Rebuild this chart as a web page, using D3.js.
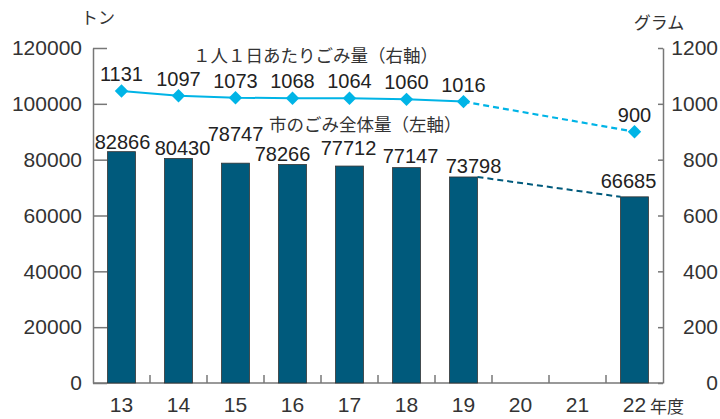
<!DOCTYPE html>
<html>
<head>
<meta charset="utf-8">
<script src="https://cdn.jsdelivr.net/npm/d3@7"></script>
<style>
  body { margin: 0; background: #fff; }
  svg text { font-family: "Liberation Sans", "Noto Sans CJK JP", sans-serif; }
  svg text.jp { font-family: "Noto Sans CJK JP", sans-serif; }
</style>
</head>
<body>
<div id="chart"></div>
<script>
// 年度
const years = ['13', '14', '15', '16', '17', '18', '19', '20', '21', '22']
// 市のごみ全体量（トン）
const totalYears = ['13', '14', '15', '16', '17', '18', '19', '22']
const totalTons = [82866, 80430, 78747, 78266, 77712, 77147, 73798, 66685]
// 1人1日あたりごみ量（グラム）: 表示ラベルと、図上のマーカー位置（右軸で読んだ値）
const perCapitaLabels = [1131, 1097, 1073, 1068, 1064, 1060, 1016, 900]
const perCapitaPlotted = [1046, 1029, 1022, 1020, 1020, 1016, 1008, 900]
// 目盛り
const leftTicks = [0, 20000, 40000, 60000, 80000, 100000, 120000]
const rightTicks = [0, 200, 400, 600, 800, 1000, 1200]

const width = 720, height = 419
const plotLeft = 93, plotRight = 663, plotTop = 48, plotBottom = 383
const barColor = '#005a7c', lineColor = '#00b4e6', axisColor = '#777'

const svg = d3.select('#chart').append('svg')
  .attr('width', width)
  .attr('height', height)

const x = d3.scaleBand().domain(years).range([plotLeft, plotRight]).padding(0)
const yL = d3.scaleLinear().domain([0, 120000]).range([plotBottom, plotTop])
const yR = d3.scaleLinear().domain([0, 1200]).range([plotBottom, plotTop])
const barW = x.bandwidth() * 0.49

// 左軸
const axL = svg.append('g')
  .attr('transform', `translate(${plotLeft},0)`)
  .call(d3.axisLeft(yL).tickValues(leftTicks).tickFormat(d3.format('d'))
    .tickSizeInner(-14).tickSizeOuter(0).tickPadding(11))
axL.select('.domain').attr('stroke', axisColor).attr('stroke-width', 1.5)
axL.selectAll('line').attr('stroke', axisColor).attr('stroke-width', 1.5)
axL.selectAll('text').attr('font-size', 21).attr('fill', '#333')

// 右軸
const axR = svg.append('g')
  .attr('transform', `translate(${plotRight},0)`)
  .call(d3.axisRight(yR).tickValues(rightTicks).tickFormat(d3.format('d'))
    .tickSizeInner(-5).tickSizeOuter(0))
axR.select('.domain').attr('stroke', axisColor).attr('stroke-width', 1.5)
axR.selectAll('line').attr('stroke', axisColor).attr('stroke-width', 1.5)
axR.selectAll('text').attr('font-size', 21).attr('fill', '#333')
  .attr('text-anchor', 'end').attr('x', 55)

// 下軸
svg.append('line')
  .attr('x1', plotLeft).attr('x2', plotRight).attr('y1', plotBottom).attr('y2', plotBottom)
  .attr('stroke', axisColor).attr('stroke-width', 1.5)
svg.selectAll('.minor')
  .data(years.slice(1))
  .enter()
  .append('line')
    .attr('x1', d => x(d)).attr('x2', d => x(d))
    .attr('y1', plotBottom).attr('y2', plotBottom - 8)
    .attr('stroke', axisColor).attr('stroke-width', 1.5)
svg.selectAll('.xlab')
  .data(years)
  .enter()
  .append('text')
    .attr('x', d => x(d) + x.bandwidth() / 2)
    .attr('y', 412)
    .attr('text-anchor', 'middle')
    .attr('font-size', 21)
    .attr('fill', '#333')
    .text(d => d)
svg.append('text').attr('class', 'jp').attr('x', 650).attr('y', 413)
  .attr('font-size', 17).attr('fill', '#333').text('年度')

// 単位
svg.append('text').attr('class', 'jp').attr('x', 98).attr('y', 24).attr('text-anchor', 'middle')
  .attr('font-size', 17).attr('fill', '#333').text('トン')
svg.append('text').attr('class', 'jp').attr('x', 659).attr('y', 29).attr('text-anchor', 'middle')
  .attr('font-size', 17).attr('fill', '#333').text('グラム')

// 棒
svg.selectAll('.bar')
  .data(totalTons)
  .enter()
  .append('rect')
    .attr('x', (d, i) => x(totalYears[i]) + (x.bandwidth() - barW) / 2)
    .attr('y', d => yL(d))
    .attr('width', barW)
    .attr('height', d => plotBottom - yL(d))
    .attr('fill', barColor)
    .attr('stroke', '#333')
    .attr('stroke-width', 0.8)

// 棒の破線（19→22）
const i19 = totalYears.indexOf('19'), i22 = totalYears.indexOf('22')
svg.append('line')
  .attr('x1', x('19') + (x.bandwidth() + barW) / 2).attr('y1', yL(totalTons[i19]))
  .attr('x2', x('22') + (x.bandwidth() - barW) / 2).attr('y2', yL(totalTons[i22]))
  .attr('stroke', barColor).attr('stroke-width', 2).attr('stroke-dasharray', '6,4')

// 棒の数値（重なり回避のずらし）
const barLabelLift = [3, 3, 22, 4, 11, 5, 4, 9]
const barLabelShift = [1, 4, 0, -10, -1, 4, 10, -6]
svg.selectAll('.barlab')
  .data(totalTons)
  .enter()
  .append('text')
    .attr('x', (d, i) => x(totalYears[i]) + x.bandwidth() / 2 + barLabelShift[i])
    .attr('y', (d, i) => yL(d) - barLabelLift[i])
    .attr('text-anchor', 'middle')
    .attr('font-size', 20)
    .attr('fill', '#222')
    .text(d => d)

// 折れ線
const cx = i => x(totalYears[i]) + x.bandwidth() / 2
const line = d3.line().x((d, i) => cx(i)).y(d => yR(d))
svg.append('path')
  .attr('d', line(perCapitaPlotted.slice(0, i19 + 1)))
  .attr('fill', 'none').attr('stroke', lineColor).attr('stroke-width', 2)
svg.append('line')
  .attr('x1', cx(i19)).attr('y1', yR(perCapitaPlotted[i19]))
  .attr('x2', cx(i22)).attr('y2', yR(perCapitaPlotted[i22]))
  .attr('stroke', lineColor).attr('stroke-width', 2.2).attr('stroke-dasharray', '6,4')

svg.selectAll('.mark')
  .data(perCapitaPlotted)
  .enter()
  .append('path')
    .attr('d', d3.symbol(d3.symbolSquare, 90)())
    .attr('transform', (d, i) => `translate(${cx(i)},${yR(d)}) rotate(45)`)
    .attr('fill', lineColor)

svg.selectAll('.linelab')
  .data(perCapitaLabels)
  .enter()
  .append('text')
    .attr('x', (d, i) => cx(i))
    .attr('y', (d, i) => yR(perCapitaPlotted[i]) - 10)
    .attr('text-anchor', 'middle')
    .attr('font-size', 20)
    .attr('fill', '#222')
    .text(d => d)

// 凡例
svg.append('text').attr('class', 'jp').attr('x', 193).attr('y', 62).attr('font-size', 17.5).attr('fill', '#333')
  .text('１人１日あたりごみ量（右軸）')
svg.append('text').attr('class', 'jp').attr('x', 269).attr('y', 131).attr('font-size', 17.5).attr('fill', '#333')
  .text('市のごみ全体量（左軸）')
</script>
</body>
</html>
